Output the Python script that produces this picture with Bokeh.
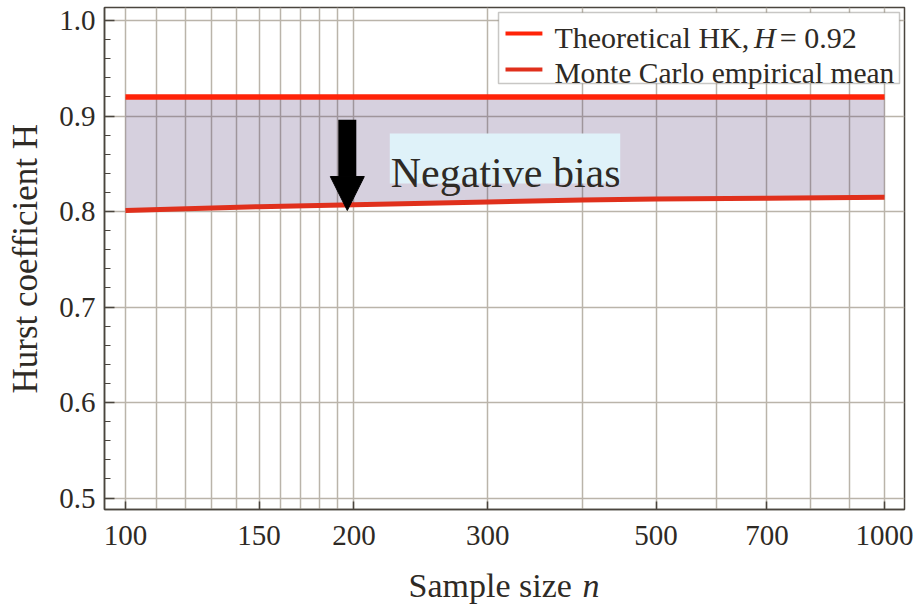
from bokeh.plotting import figure
from bokeh.embed import file_html
from bokeh.resources import INLINE
from bokeh.models import (Range1d, FixedTicker, PrintfTickFormatter, Label,
                          BoxAnnotation, Arrow, NormalHead)

# ---- data ----
n_mc = [100, 150, 200, 300, 400, 500, 700, 1000]
h_mc = [0.801, 0.805, 0.807, 0.810, 0.812, 0.813, 0.814, 0.815]
n_theory = [100, 1000]
h_theory = [0.92, 0.92]

x_ticks = [100, 150, 200, 300, 500, 700, 1000]
x_grid = [100, 110, 120, 130, 140, 150, 160, 170, 180, 190, 200,
          300, 400, 500, 600, 700, 800, 900, 1000]
y_ticks = [0.5, 0.6, 0.7, 0.8, 0.9, 1.0]
y_minor = [0.52, 0.54, 0.56, 0.58, 0.62, 0.64, 0.66, 0.68, 0.72, 0.74, 0.76, 0.78,
           0.82, 0.84, 0.86, 0.88, 0.92, 0.94, 0.96, 0.98]

arrow_n = 196
arrow_top = 0.896
arrow_tip = 0.801

W, H = 913, 604

# ---- layout helpers (pixel of page -> data) ----
def nx(px):
    return 10 ** (2 + (px - 123) / 761.0)

def hy(py):
    return 1.0 - (py - 20) / 955.0

FONT = "Liberation Serif"
TXT = "#2e2a25"
FRAME = "#4a453e"
GRID = "#bab4aa"

p = figure(width=W, height=H, x_axis_type="log",
           x_range=Range1d(nx(102), nx(904)), y_range=Range1d(hy(509), hy(7)),
           output_backend="svg", toolbar_location=None,
           min_border_left=102, min_border_right=W - 904, min_border_top=7,
           min_border_bottom=H - 509)
p.background_fill_color = "white"
p.border_fill_color = "white"
p.outline_line_color = FRAME
p.outline_line_width = 1.5

# axes
p.xaxis.ticker = FixedTicker(ticks=x_ticks, minor_ticks=[])
p.xaxis.formatter = PrintfTickFormatter(format="%d")
p.yaxis.ticker = FixedTicker(ticks=y_ticks, minor_ticks=y_minor)
p.yaxis.formatter = PrintfTickFormatter(format="%.1f")
for ax in (p.xaxis[0], p.yaxis[0]):
    ax.axis_line_color = FRAME
    ax.axis_line_width = 1.5
    ax.major_tick_line_color = FRAME
    ax.major_tick_line_width = 1.5
    ax.minor_tick_line_color = FRAME
    ax.minor_tick_line_width = 1.2
    ax.major_tick_out = 0
    ax.minor_tick_out = 0
    ax.major_label_text_font = FONT
    ax.major_label_text_font_size = "29px"
    ax.major_label_text_color = TXT
p.xaxis.major_tick_in = 8
p.yaxis.major_tick_in = 10
p.yaxis.minor_tick_in = 6
p.xaxis.major_label_standoff = 16
p.yaxis.major_label_standoff = 9

# grids
p.xgrid[0].ticker = FixedTicker(ticks=x_grid, minor_ticks=[])
p.xgrid.grid_line_color = GRID
p.xgrid.grid_line_width = 1.5
p.ygrid.grid_line_color = GRID
p.ygrid.grid_line_width = 1.5

# shaded bias region (translucent so grid shows through darker)
p.varea(x=n_mc, y1=h_mc, y2=[h_theory[0]] * len(n_mc),
        fill_color="#3c1f62", fill_alpha=0.21)

# lines
p.line(n_theory, h_theory, line_color="#ff2308", line_width=5.5)
p.line(n_mc, h_mc, line_color="#e0301c", line_width=5)

# arrow
p.add_layout(Arrow(x_start=arrow_n, y_start=arrow_top, x_end=arrow_n, y_end=arrow_tip,
                   line_color="black", line_width=18,
                   end=NormalHead(size=34, fill_color="black", line_color="black", line_width=1)))

# "Negative bias" text with light blue background
p.add_layout(BoxAnnotation(left=nx(388), right=nx(619), top=hy(133), bottom=hy(183),
                           fill_color="#dff2f9", fill_alpha=1, line_color=None))
p.add_layout(Label(x=nx(389), y=hy(172), text="Negative bias", text_font=FONT,
                   text_font_size="42px", text_color=TXT, text_baseline="alphabetic"))

# legend
p.add_layout(BoxAnnotation(left=nx(497), right=nx(899), top=hy(12), bottom=hy(83),
                           fill_color="white", fill_alpha=1, line_color=FRAME, line_width=1.5))
p.add_layout(Arrow(x_start=nx(504), y_start=hy(33), x_end=nx(541), y_end=hy(33),
                   end=None, start=None, line_color="#ff2308", line_width=4))
p.add_layout(Arrow(x_start=nx(504), y_start=hy(69), x_end=nx(541), y_end=hy(69),
                   end=None, start=None, line_color="#e0301c", line_width=4))
p.add_layout(Label(x=nx(553), y=hy(36.7), text="Theoretical HK,", text_font=FONT,
                   text_font_size="30px", text_color=TXT, text_baseline="alphabetic"))
p.add_layout(Label(x=nx(753), y=hy(36.7), text="H", text_font=FONT, text_font_style="italic",
                   text_font_size="30px", text_color=TXT, text_baseline="alphabetic"))
p.add_layout(Label(x=nx(779), y=hy(36.7), text="= 0.92", text_font=FONT,
                   text_font_size="30px", text_color=TXT, text_baseline="alphabetic"))
p.add_layout(Label(x=nx(553), y=hy(72.5), text="Monte Carlo empirical mean", text_font=FONT,
                   text_font_size="29.5px", text_color=TXT, text_baseline="alphabetic"))

# axis titles: canvas-pixel labels living in the side panels (so they are not clipped)
common = dict(text_font=FONT, text_color=TXT, text_baseline="alphabetic",
              x_units="canvas", y_units="canvas")
p.add_layout(Label(x=25, y=393, text="Hurst coefficient H", text_font_size="35px",
                   angle=1.5707963, **common), "left")
p.add_layout(Label(x=582, y=585, text="n", text_font_style="italic",
                   text_font_size="34px", **common), "left")
p.add_layout(Label(x=408, y=585, text="Sample size", text_font_size="34px", **common),
             "below")

open("out.html", "w").write(file_html(p, INLINE))
